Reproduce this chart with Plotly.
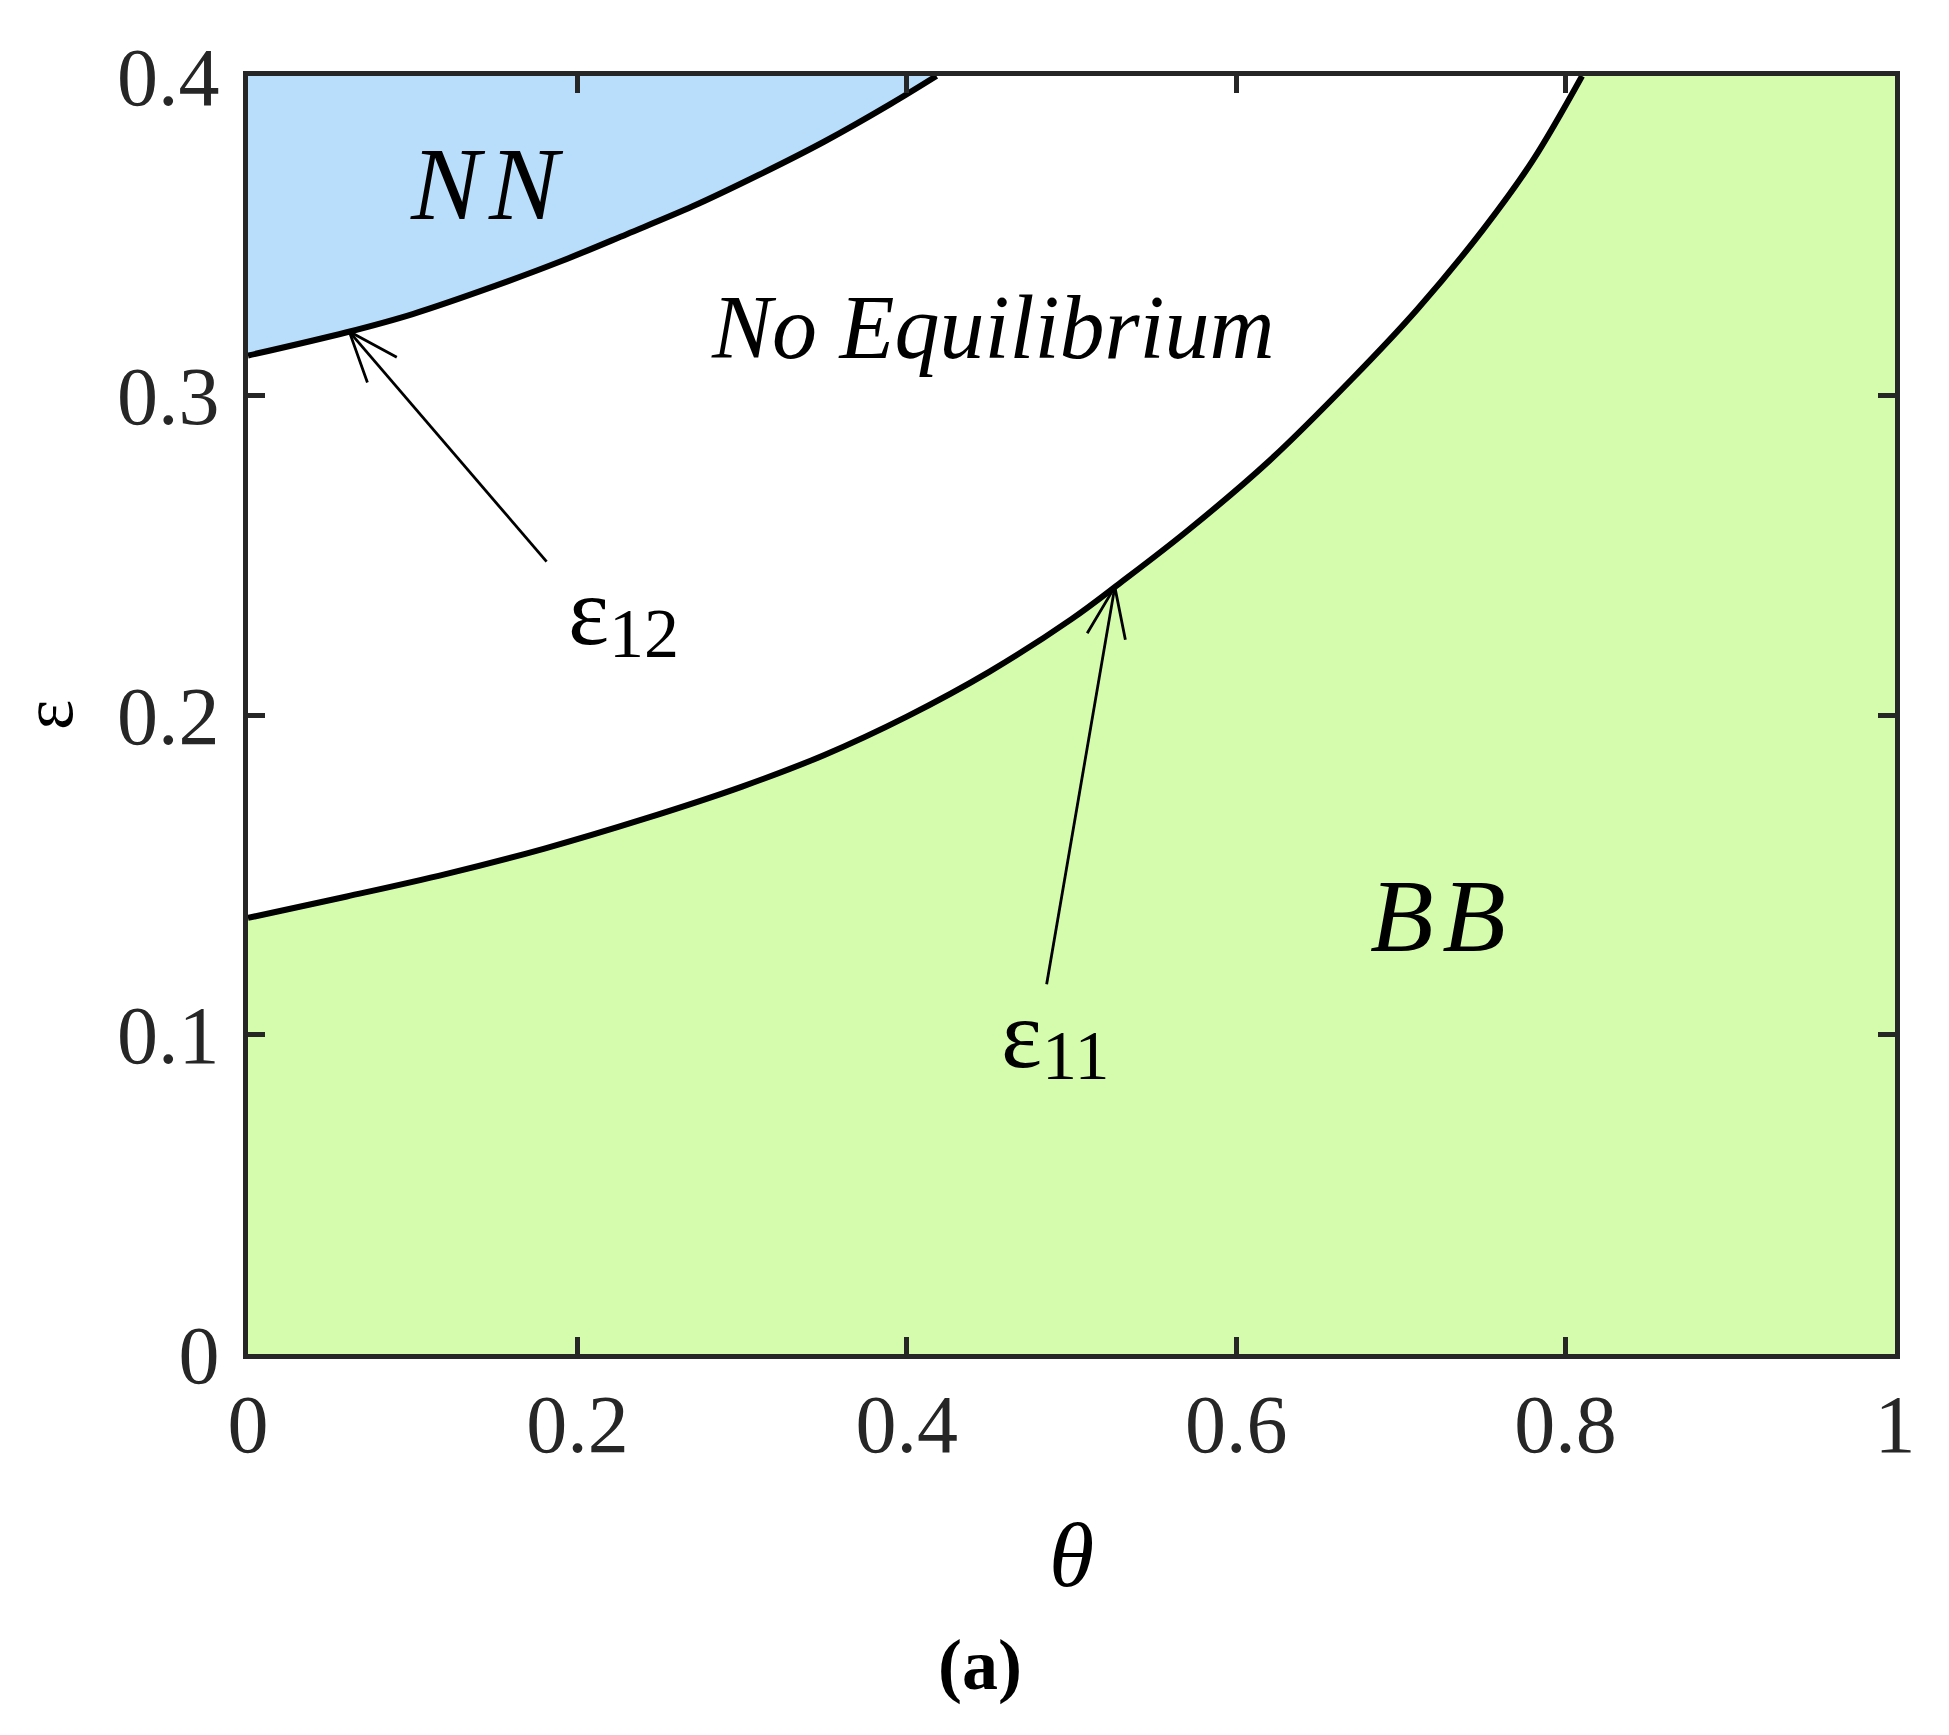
import math
import plotly.graph_objects as go

# ---- data ----
theta_e12 = [0, 0.06, 0.10, 0.15, 0.19, 0.23, 0.27, 0.31, 0.35, 0.39, 0.418]
eps_e12 = [0.3125, 0.3198, 0.3255, 0.3343, 0.3420, 0.3505, 0.3592, 0.3690, 0.3795, 0.3912, 0.400]

theta_e11 = [0, 0.06, 0.12, 0.18, 0.24, 0.30, 0.35, 0.40, 0.45, 0.50, 0.53, 0.57,
             0.62, 0.67, 0.71, 0.75, 0.78, 0.81]
eps_e11 = [0.1365, 0.1432, 0.1502, 0.1582, 0.1674, 0.1776, 0.1875, 0.1995, 0.2135,
           0.2300, 0.2415, 0.2575, 0.2795, 0.3050, 0.3270, 0.3520, 0.3735, 0.400]

x_tickvals = [0, 0.2, 0.4, 0.6, 0.8, 1]
x_ticktext = ["0", "0.2", "0.4", "0.6", "0.8", "1"]
y_tickvals = [0, 0.1, 0.2, 0.3, 0.4]
y_ticktext = ["0", "0.1", "0.2", "0.3", "0.4"]

# region labels (text, theta, eps, size)
region_labels = [("N\u200aN", 0.145, 0.3665, 104),
                 ("No Equilibrium", 0.4523, 0.3214, 90),
                 ("B\u200aB", 0.7225, 0.1371, 104)]

# arrows: (tip, tail, subscript, symbol pos, subscript pos)
arrows = [((0.0615, 0.3200), (0.1813, 0.2480), "12", (0.2070, 0.2327), (0.2407, 0.2255)),
          ((0.5263, 0.2401), (0.4849, 0.1157), "11", (0.4696, 0.1003), (0.5024, 0.0933))]

BLUE = "#B8DEFC"
GREEN = "#D4FCAC"
AX = "#262626"
FONT = "Liberation Serif"

# page body has an 8px margin; figure placed so plot box = x 248..1895, y 76..1354
W, H = 1941, 1727
ML, MR, MT, MB = 240, 54, 68, 381
PX_X = (W - ML - MR) / 1.0
PX_Y = (H - MT - MB) / 0.4

fig = go.Figure()

# NN region
fig.add_trace(go.Scatter(x=theta_e12 + [0], y=eps_e12 + [0.4], fill="toself",
                         fillcolor=BLUE, line=dict(width=0), mode="lines",
                         hoverinfo="skip", showlegend=False))
# BB region
fig.add_trace(go.Scatter(x=[0] + theta_e11 + [1, 1], y=[0] + eps_e11 + [0.4, 0],
                         fill="toself", fillcolor=GREEN, line=dict(width=0),
                         mode="lines", hoverinfo="skip", showlegend=False))
# boundary curves
for tx, ty in [(theta_e12, eps_e12), (theta_e11, eps_e11)]:
    fig.add_trace(go.Scatter(x=tx, y=ty, mode="lines",
                             line=dict(color="black", width=6, shape="spline", smoothing=1.0),
                             hoverinfo="skip", showlegend=False))


def arrow_xy(tip, tail, L=54, half=21):
    tx, ty = tip
    sx, sy = tail
    dx = (sx - tx) * PX_X
    dy = (sy - ty) * PX_Y
    a = math.atan2(dy, dx)
    xs, ys = [sx, tx, None], [sy, ty, None]
    for s in (-1, 1):
        b = a + s * math.radians(half)
        xs += [tx + L * math.cos(b) / PX_X]
        ys += [ty + L * math.sin(b) / PX_Y]
        if s == -1:
            xs += [tx]
            ys += [ty]
    return xs, ys


annotations = []
for tip, tail, sub, (ex, ey), (sx, sy) in arrows:
    xs, ys = arrow_xy(tip, tail)
    fig.add_trace(go.Scatter(x=xs, y=ys, mode="lines", line=dict(color="black", width=2.8),
                             hoverinfo="skip", showlegend=False))
    annotations.append(dict(x=ex, y=ey, xref="x", yref="y", text="ε", showarrow=False,
                            font=dict(family=FONT, size=98, color="black"),
                            xanchor="center", yanchor="middle"))
    annotations.append(dict(x=sx, y=sy, xref="x", yref="y", text=sub, showarrow=False,
                            font=dict(family=FONT, size=70, color="black"),
                            xanchor="center", yanchor="middle"))

for txt, lx, ly, sz in region_labels:
    annotations.append(dict(x=lx, y=ly, xref="x", yref="y", text=txt, showarrow=False,
                            font=dict(family=FONT, size=sz, color="black", style="italic"),
                            xanchor="center", yanchor="middle"))

annotations.append(dict(x=(980 - 8 - ML) / PX_X, y=(H + 8 - MB - 1665) / (H - MT - MB),
                        xref="paper", yref="paper", text="<b>(a)</b>", showarrow=False,
                        font=dict(family=FONT, size=72, color="black"),
                        xanchor="center", yanchor="middle"))

axis_common = dict(ticks="inside", ticklen=17, tickwidth=4.5, tickcolor=AX,
                   showline=True, linewidth=5, linecolor=AX, mirror="ticks",
                   showgrid=False, zeroline=False,
                   tickfont=dict(family=FONT, size=82, color=AX))

fig.update_layout(
    width=W, height=H,
    margin=dict(l=ML, r=MR, t=MT, b=MB),
    paper_bgcolor="white", plot_bgcolor="white",
    xaxis=dict(range=[0, 1], tickvals=x_tickvals, ticktext=x_ticktext,
               ticklabelstandoff=-5,
               title=dict(text="θ", font=dict(family=FONT, size=92, color="black", style="italic"),
                          standoff=54),
               **axis_common),
    yaxis=dict(range=[0, 0.4], tickvals=y_tickvals, ticktext=y_ticktext,
               ticklabelstandoff=7,
               title=dict(text="ε", font=dict(family=FONT, size=72, color="black"),
                          standoff=48),
               **axis_common),
    annotations=annotations,
)

fig.write_html("out.html")
